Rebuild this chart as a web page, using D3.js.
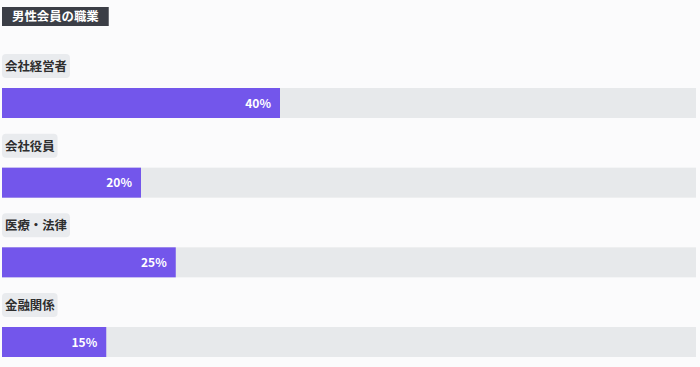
<!DOCTYPE html>
<html><head><meta charset="utf-8">
<script src="https://cdn.jsdelivr.net/npm/d3@7/dist/d3.min.js"></script>
<style>
html,body{margin:0;padding:0;background:#fbfbfc;}
svg{display:block;font-family:"Noto Sans CJK JP","Noto Sans",sans-serif;}
</style></head>
<body><svg id="c" width="700" height="367"></svg>
<script>
const title = "男性会員の職業";
const categories = ["会社経営者", "会社役員", "医療・法律", "金融関係"];
const values = [40, 20, 25, 15];

const svg = d3.select("#c");
const W = 700, H = 367;
svg.append("rect").attr("width", W).attr("height", H).attr("fill", "#fbfbfc");

// title
const tg = svg.append("g");
const tt = tg.append("text").attr("x", 12).attr("y", 21)
  .attr("font-size", 12.4).attr("font-weight", 700).attr("fill", "#fff").text(title);
const tw = tt.node().getComputedTextLength();
tg.insert("rect", "text").attr("x", 2).attr("y", 7).attr("width", tw + 20).attr("height", 19).attr("fill", "#3b3e46");

const x = d3.scaleLinear().domain([0, 100]).range([2, 697]);
const rowY = d3.scalePoint().domain(categories).range([88, 327]);
const barH = 30;

const rows = svg.selectAll("g.row").data(categories).join("g").attr("class", "row");

rows.each(function(c, i) {
  const g = d3.select(this);
  const y = rowY(c);
  // label
  const lt = g.append("text").attr("x", 5).attr("y", y - 17)
    .attr("font-size", 12.4).attr("font-weight", 700).attr("fill", "#2e2e2e").text(c);
  const lw = lt.node().getComputedTextLength();
  g.insert("rect", "text").attr("x", 2).attr("y", y - 34).attr("width", lw + 6).attr("height", 24)
    .attr("rx", 4).attr("fill", "#e9ebee");
  // track
  g.append("rect").attr("x", x(0)).attr("y", y).attr("width", x(100) - x(0) - 1).attr("height", barH)
    .attr("fill", "#e7e9eb");
  // bar
  g.append("rect").attr("x", x(0)).attr("y", y).attr("width", x(values[i]) - x(0)).attr("height", barH)
    .attr("fill", "#7356eb");
  g.append("text").attr("x", x(values[i]) - 9).attr("y", y + barH / 2 + 4.5)
    .attr("text-anchor", "end").attr("font-size", 12).attr("font-weight", 700).attr("fill", "#fff")
    .text(values[i] + "%");
});
</script></body></html>
